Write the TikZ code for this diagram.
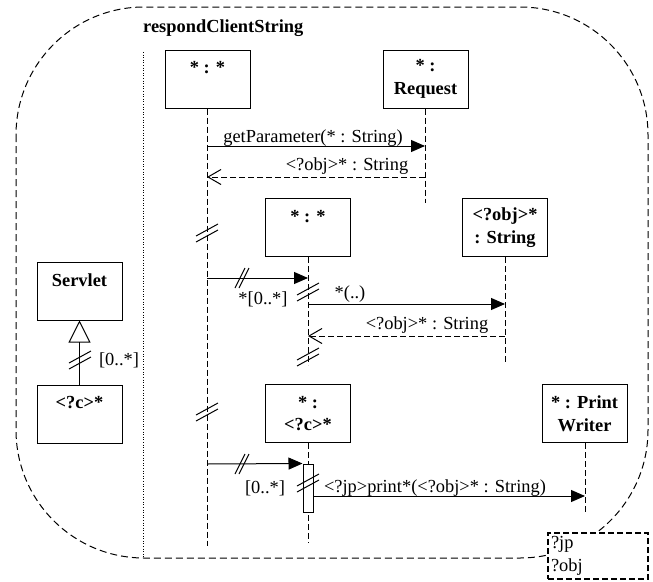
\documentclass[tikz,border=0pt]{standalone}
\usepackage{fontspec}
\setmainfont{Liberation Serif}
\usetikzlibrary{arrows.meta}
\begin{document}
\begin{tikzpicture}[x=1pt,y=-1pt,
  txt/.style={font=\fontsize{18.4}{22}\selectfont, inner sep=0pt},
  obj/.style={draw, line width=1pt, fill=white, minimum width=85pt, minimum height=58pt,
    align=center, inner sep=0pt, font=\fontsize{18.4}{22.5}\selectfont\bfseries},
  life/.style={line width=1pt, dash pattern=on 6pt off 3pt},
  msg/.style={line width=1pt, -{Triangle[length=14pt,width=12pt]}},
  ret/.style={line width=1pt, dash pattern=on 6pt off 3pt, -{Straight Barb[length=13pt,width=15pt]}},
  framestyle/.style={line width=1pt, dash pattern=on 7pt off 4pt},
  hbrk/.pic={\draw[line width=1pt] (-7,10) -- (3,-10) (-3,10) -- (7,-10);},
  vbrk/.pic={\draw[line width=1pt] (-11,3) -- (11,-9) (-11,9) -- (11,-3);},
]
\useasboundingbox (0,0) rectangle (653,581);

% frame
\draw[framestyle, rounded corners=128pt] (16,7) rectangle (648,558);
\draw[line width=0.6pt, dotted] (143,52) -- (143,558);
\node[txt, font=\fontsize{18.4}{22}\selectfont\bfseries, anchor=base west] (title) at (143,32) {respondClientString};

% objects
\node[obj] (o1) at (207.5,79) {* : *\\~};
\node[obj] (req) at (425.5,79) {* :\\Request};
\node[obj] (o2) at (308,227.5) {* : *\\~};
\node[obj] (str) at (505,227.5) {<?obj>*\\: String};
\node[obj] (serv) at (79.5,291) {Servlet\\~};
\node[obj] (cc) at (79.5,414) {<?c>*\\~};
\node[obj] (o3) at (308,413.5) {* :\\<?c>*};
\node[obj] (pw) at (584.5,413.5) {* : Print\\Writer};

% lifeline ends
\coordinate (o1e) at (207,546);
\coordinate (reqe) at (425,203);
\coordinate (o2e) at (308,365);
\coordinate (stre) at (505,364);
\coordinate (o3e) at (308,543);
\coordinate (pwe) at (585,514);

\draw[life] (o1.south -| o1e) -- (o1e);
\draw[life] (req.south -| reqe) -- (reqe);
\draw[life] (o2.south -| o2e) -- (o2e);
\draw[life] (str.south -| stre) -- (stre);
\draw[life] (o3.south -| o3e) -- (o3e);
\draw[life] (pw.south -| pwe) -- (pwe);

% activation bar
\node[draw, fill=white, line width=1pt, minimum width=10pt, minimum height=48pt, inner sep=0pt] (act) at (308,488) {};

% message points
\coordinate (m1a) at (207,146); \coordinate (m1b) at (425,146);
\coordinate (r1a) at (425,177); \coordinate (r1b) at (207,177);
\coordinate (m2a) at (207,278); \coordinate (m2b) at (308,278);
\coordinate (m3a) at (308,304); \coordinate (m3b) at (505,304);
\coordinate (r3a) at (505,336); \coordinate (r3b) at (308,336);
\coordinate (m4a) at (207,464);
\coordinate (m5a) at (313,496); \coordinate (m5b) at (585,496);

\draw[msg] (m1a) -- (m1b);
\draw[ret] (r1a) -- (r1b);
\draw[msg] (m2a) -- (m2b);
\draw[msg] (m3a) -- (m3b);
\draw[ret] (r3a) -- (r3b);
\draw[msg] (m4a) -- (act.north west);
\draw[msg] (m5a) -- (m5b);

% generalization
\draw[line width=1pt, -{Triangle[open, length=22pt, width=22pt]}] (cc.north) -- (serv.south);

% labels
\node[txt, anchor=base] (l1) at (313,142) {getParameter(* : String)};
\node[txt, anchor=base] (l2) at (347,170) {<?obj>* : String};
\node[txt, anchor=base] (l3) at (263,304) {*[0..*]};
\node[txt, anchor=base] (l4) at (350,298) {*(..)};
\node[txt, anchor=base] (l5) at (427,329) {<?obj>* : String};
\node[txt, anchor=base] (l6) at (265,493) {[0..*]};
\node[txt, anchor=base] (l7) at (435,492) {<?jp>print*(<?obj>* : String)};
\node[txt, anchor=base] (l8) at (119,365) {[0..*]};

% break marks
\pic at (242,278) {hbrk};
\pic at (242,464) {hbrk};
\pic at (207,233) {vbrk};
\pic at (207,412) {vbrk};
\pic at (308,292) {vbrk};
\pic at (308,357) {vbrk};
\pic at (308,483) {vbrk};
\pic at (80,360) {vbrk};

% note
\node[draw, fill=white, line width=2pt, dash pattern=on 6pt off 3pt, minimum width=100pt, minimum height=46pt,
  text width=94pt, align=left, inner sep=3pt, font=\fontsize{18.4}{22.5}\selectfont] (note) at (598,556) {?jp\\?obj};
\end{tikzpicture}
\end{document}
